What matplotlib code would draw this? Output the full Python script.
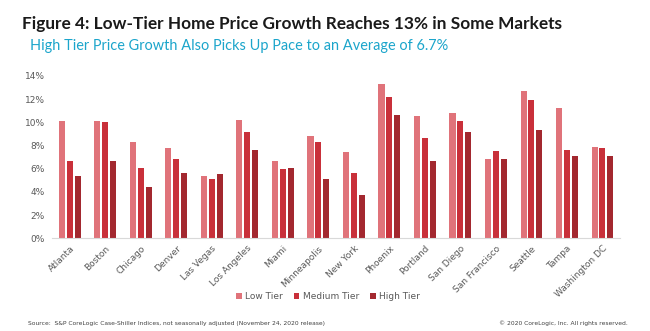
import numpy as np
import matplotlib
matplotlib.use("Agg")
import matplotlib.pyplot as plt
from matplotlib.ticker import FuncFormatter

markets = ["Atlanta", "Boston", "Chicago", "Denver", "Las Vegas", "Los Angeles",
           "Miami", "Minneapolis", "New York", "Phoenix", "Portland", "San Diego",
           "San Francisco", "Seattle", "Tampa", "Washington DC"]

low_tier = [10.1, 10.1, 8.3, 7.8, 5.4, 10.2, 6.7, 8.8, 7.4, 13.3, 10.5, 10.8,
            6.8, 12.7, 11.2, 7.9]
medium_tier = [6.7, 10.0, 6.1, 6.8, 5.1, 9.2, 6.0, 8.3, 5.6, 12.2, 8.6, 10.1,
               7.5, 11.9, 7.6, 7.8]
high_tier = [5.4, 6.7, 4.4, 5.6, 5.5, 7.6, 6.1, 5.1, 3.7, 10.6, 6.7, 9.2,
             6.8, 9.3, 7.1, 7.1]

series = [("Low Tier", low_tier, "#E0737A"),
          ("Medium Tier", medium_tier, "#C9303A"),
          ("High Tier", high_tier, "#A3282F")]

fig = plt.figure(figsize=(6.5, 3.31), dpi=100)
ax = fig.add_axes([0.08, 0.28, 0.874, 0.491])

x = np.arange(len(markets))
width = 0.17
step = 0.22
for i, (name, vals, col) in enumerate(series):
    ax.bar(x + (i - 1) * step, vals, width, color=col, label=name, zorder=2)

ax.set_xlim(-0.5, len(markets) - 0.5)
ax.set_ylim(0, 14)
ax.set_yticks(range(0, 15, 2))
ax.yaxis.set_major_formatter(FuncFormatter(lambda v, p: f"{v:.0f}%"))
ax.set_xticks(x)
ax.set_xticklabels(markets, rotation=45, ha="right", rotation_mode="anchor")
ax.tick_params(axis="both", length=0, labelsize=6.5, colors="#595959")
ax.tick_params(axis="y", pad=5)
ax.tick_params(axis="x", pad=4)
for s in ["top", "right", "left"]:
    ax.spines[s].set_visible(False)
ax.spines["bottom"].set_color("#D9D9D9")
ax.spines["bottom"].set_linewidth(0.8)

title = fig.text(0.034, 0.927, "Figure 4: Low-Tier Home Price Growth Reaches 13% in Some Markets",
                 fontsize=12, fontweight="bold", color="#1A1A1A", va="center",
                 family="Lato")
subtitle = fig.text(0.046, 0.86, "High Tier Price Growth Also Picks Up Pace to an Average of 6.7%",
                    fontsize=10, color="#1BA5CB", va="center", family="Lato")

# shrink/grow heading text so each spans its pixel width
fig.canvas.draw()
r = fig.canvas.get_renderer()
for t, target in [(title, 535), (subtitle, 418)]:
    w = t.get_window_extent(r).width
    t.set_fontsize(t.get_fontsize() * target / w)

leg = fig.legend(loc="center", bbox_to_anchor=(0.505, 0.103), ncol=3, frameon=False,
                 fontsize=6.5, handlelength=0.6, handleheight=0.6, handletextpad=0.4,
                 columnspacing=1.2)
for t in leg.get_texts():
    t.set_color("#595959")

fig.text(0.043, 0.024, "Source:  S&P CoreLogic Case-Shiller Indices, not seasonally adjusted (November 24, 2020 release)",
         fontsize=4.3, color="#404040", va="center")
fig.text(0.966, 0.024, "\u00a9 2020 CoreLogic, Inc. All rights reserved.",
         fontsize=4.3, color="#404040", va="center", ha="right")

fig.savefig("out.png", dpi=100)
